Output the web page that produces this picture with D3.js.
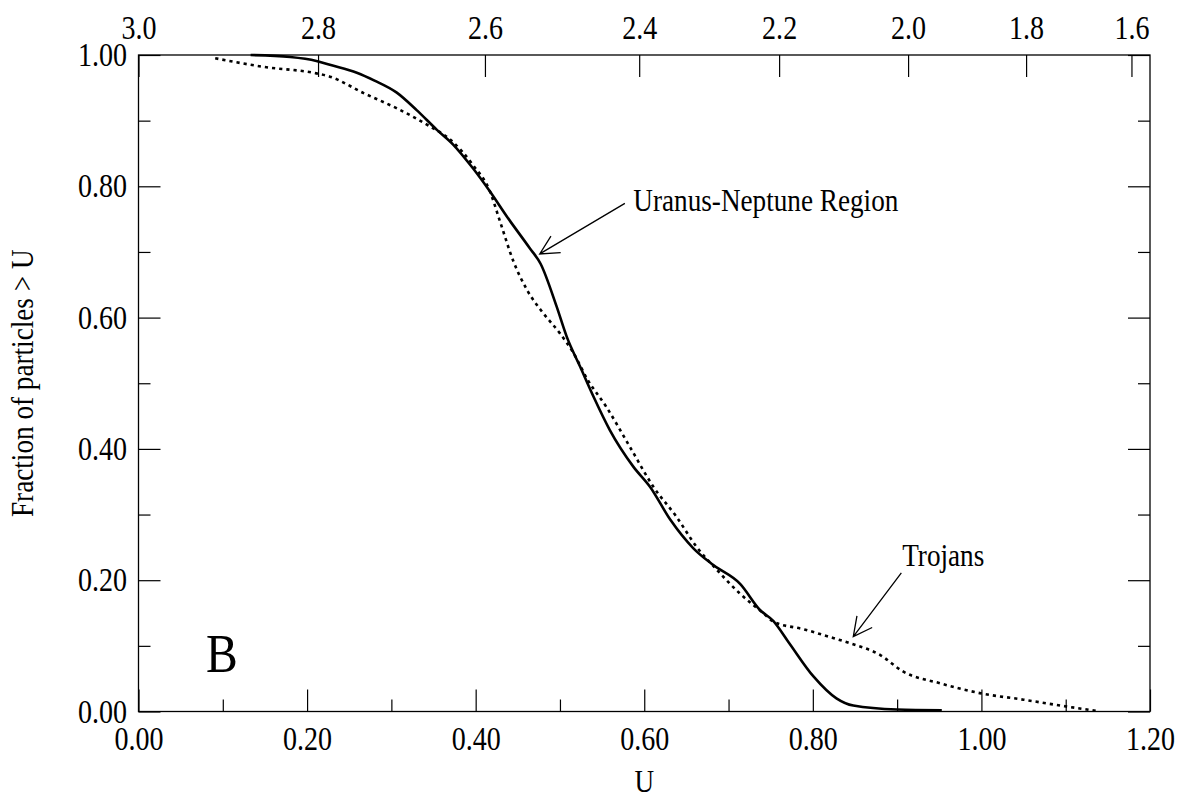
<!DOCTYPE html>
<html>
<head>
<meta charset="utf-8">
<script src="https://cdn.jsdelivr.net/npm/d3@7"></script>
<style>
  body { margin: 0; background: #fff; }
  text { font-family: "Liberation Serif", "Times New Roman", serif; fill: #000; }
</style>
</head>
<body>
<div id="vis"></div>
<script>
// Uranus-Neptune region (solid) - cumulative fraction of particles > U
const unU = [0.133, 0.18, 0.211, 0.227, 0.259, 0.280, 0.306, 0.330, 0.354, 0.373, 0.397, 0.417, 0.437,
  0.464, 0.477, 0.496, 0.508, 0.524, 0.540, 0.559, 0.587, 0.607, 0.631, 0.658, 0.682, 0.714,
  0.737, 0.753, 0.771, 0.801, 0.828, 0.848, 0.900, 0.953];
const unF = [1.0, 0.997, 0.991, 0.985, 0.973, 0.961, 0.943, 0.916, 0.886, 0.864, 0.827, 0.792, 0.754,
  0.706, 0.682, 0.617, 0.571, 0.525, 0.479, 0.429, 0.373, 0.342, 0.292, 0.249, 0.223, 0.194,
  0.155, 0.138, 0.106, 0.053, 0.020, 0.009, 0.003, 0.002];

// Trojans (dotted)
const trU = [0.091, 0.148, 0.211, 0.227, 0.267, 0.306, 0.346, 0.370, 0.397, 0.417, 0.429, 0.445,
  0.461, 0.480, 0.500, 0.516, 0.533, 0.555, 0.583, 0.611, 0.638, 0.662, 0.686, 0.714, 0.741,
  0.753, 0.790, 0.824, 0.844, 0.880, 0.907, 0.951, 0.998, 1.050, 1.099, 1.137];
const trF = [0.995, 0.982, 0.972, 0.967, 0.942, 0.919, 0.891, 0.871, 0.832, 0.792, 0.746, 0.685,
  0.642, 0.607, 0.576, 0.546, 0.505, 0.464, 0.403, 0.342, 0.297, 0.251, 0.216, 0.179, 0.150,
  0.137, 0.125, 0.112, 0.104, 0.086, 0.061, 0.043, 0.028, 0.018, 0.008, 0.001];

// axis ticks
const xMajor = [0, 0.2, 0.4, 0.6, 0.8, 1.0, 1.2];
const xMinor = [0.1, 0.3, 0.5, 0.7, 0.9, 1.1];
const yMajor = [0, 0.2, 0.4, 0.6, 0.8, 1.0];
const yMinor = [0.1, 0.3, 0.5, 0.7, 0.9];
// top axis: Tisserand-like parameter, and the U where each label sits
const topT = [3.0, 2.8, 2.6, 2.4, 2.2, 2.0, 1.8, 1.6];
const topU = [0, 0.213, 0.411, 0.594, 0.760, 0.913, 1.053, 1.178];

const width = 1180, height = 802;
const margin = {top: 55, right: 30, bottom: 90.5, left: 138.5};
const sx = 0.85; // the lettering in the original is narrow

var svg = d3.select("#vis").append("svg")
  .attr("width", width).attr("height", height);

svg.append("rect").attr("width", width).attr("height", height).attr("fill", "#fff");

var x = d3.scaleLinear().domain([0, 1.2]).range([margin.left, width - margin.right]);
var y = d3.scaleLinear().domain([0, 1]).range([height - margin.bottom, margin.top]);
var xTop = d3.scaleLinear().domain(topT).range(topU.map(u => x(u)));

const x0 = x(0), x1 = x(1.2), y0 = y(0), y1 = y(1);

function styleAxis(g) {
  g.select(".domain").remove();
  g.selectAll(".tick line").attr("stroke", "#000").attr("stroke-width", 1.2);
  g.selectAll("text")
    .style("font-family", '"Liberation Serif", serif')
    .style("font-size", "33px")
    .attr("fill", "#000")
    .attr("transform", "scale(" + sx + ",1)");
}

// bottom
svg.append("g").attr("transform", "translate(0," + y0 + ")")
  .call(d3.axisBottom(x).tickValues(xMajor).tickSizeInner(-22).tickSizeOuter(0)
    .tickPadding(15).tickFormat(d3.format(".2f")))
  .call(styleAxis);
svg.append("g").attr("transform", "translate(0," + y0 + ")")
  .call(d3.axisBottom(x).tickValues(xMinor).tickSizeInner(-12).tickSizeOuter(0).tickFormat(""))
  .call(styleAxis);

// top
svg.append("g").attr("transform", "translate(0," + y1 + ")")
  .call(d3.axisTop(xTop).tickValues(topT).tickSizeInner(-22).tickSizeOuter(0)
    .tickPadding(16).tickFormat(d3.format(".1f")))
  .call(styleAxis);

// left
svg.append("g").attr("transform", "translate(" + x0 + ",0)")
  .call(d3.axisLeft(y).tickValues(yMajor).tickSizeInner(-22).tickSizeOuter(0)
    .tickPadding(13.5).tickFormat(d3.format(".2f")))
  .call(styleAxis);
svg.append("g").attr("transform", "translate(" + x0 + ",0)")
  .call(d3.axisLeft(y).tickValues(yMinor).tickSizeInner(-12).tickSizeOuter(0).tickFormat(""))
  .call(styleAxis);

// right
svg.append("g").attr("transform", "translate(" + x1 + ",0)")
  .call(d3.axisRight(y).tickValues(yMajor).tickSizeInner(-22).tickSizeOuter(0).tickFormat(""))
  .call(styleAxis);
svg.append("g").attr("transform", "translate(" + x1 + ",0)")
  .call(d3.axisRight(y).tickValues(yMinor).tickSizeInner(-12).tickSizeOuter(0).tickFormat(""))
  .call(styleAxis);

// frame
svg.append("rect")
  .attr("x", x0).attr("y", y1)
  .attr("width", x1 - x0).attr("height", y0 - y1)
  .attr("fill", "none").attr("stroke", "#000").attr("stroke-width", 1.3);

// curves
var line = d3.line()
  .x(d => x(d[0]))
  .y(d => y(d[1]))
  .curve(d3.curveMonotoneX);

svg.append("path")
  .datum(unU.map((u, i) => [u, unF[i]]))
  .attr("d", line)
  .attr("fill", "none").attr("stroke", "#000").attr("stroke-width", 2.6);

svg.append("path")
  .datum(trU.map((u, i) => [u, trF[i]]))
  .attr("d", line)
  .attr("fill", "none").attr("stroke", "#000").attr("stroke-width", 2.6)
  .attr("stroke-dasharray", "3.2,4");

// axis titles
svg.append("text")
  .attr("transform", "translate(" + x(0.6) + ",792) scale(" + sx + ",1)")
  .attr("text-anchor", "middle")
  .style("font-size", "32px")
  .text("U");

svg.append("text")
  .attr("transform", "translate(33," + y(0.5) + ") rotate(-90) scale(" + sx + ",1)")
  .attr("text-anchor", "middle")
  .style("font-size", "32px")
  .text("Fraction of particles > U");

// annotations
function arrow(from, to) {
  var ax = x(from[0]), ay = y(from[1]), bx = x(to[0]), by = y(to[1]);
  var ang = Math.atan2(ay - by, ax - bx);
  var len = 21, spread = 27 * Math.PI / 180;
  svg.append("path")
    .attr("d",
      "M" + ax + "," + ay + "L" + bx + "," + by +
      "M" + (bx + len * Math.cos(ang - spread)) + "," + (by + len * Math.sin(ang - spread)) +
      "L" + bx + "," + by +
      "L" + (bx + len * Math.cos(ang + spread)) + "," + (by + len * Math.sin(ang + spread)))
    .attr("fill", "none").attr("stroke", "#000").attr("stroke-width", 1.3);
}

function label(u, f, txt, size, anchor) {
  svg.append("text")
    .attr("transform", "translate(" + x(u) + "," + y(f) + ") scale(" + sx + ",1)")
    .attr("text-anchor", anchor || "start")
    .style("font-size", size + "px")
    .text(txt);
}

label(0.587, 0.763, "Uranus-Neptune Region", 32);
arrow([0.577, 0.774], [0.476, 0.697]);

label(0.906, 0.222, "Trojans", 32);
arrow([0.905, 0.211], [0.848, 0.114]);

label(0.099, 0.060, "B", 56, "middle");
</script>
</body>
</html>
